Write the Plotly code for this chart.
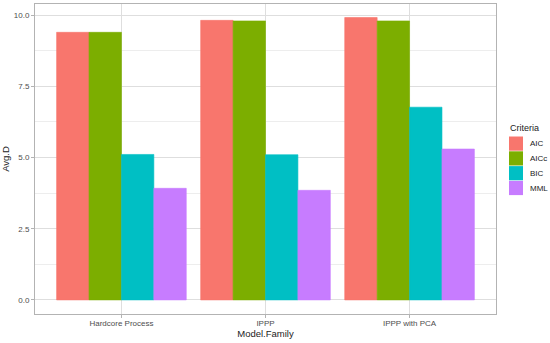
import plotly.graph_objects as go

families = ["Hardcore Process", "IPPP", "IPPP with PCA"]
criteria = ["AIC", "AICc", "BIC", "MML"]
aic = [9.40, 9.82, 9.92]
aicc = [9.40, 9.80, 9.80]
bic = [5.11, 5.10, 6.77]
mml = [3.92, 3.85, 5.30]
colors = ["#F8766D", "#7CAE00", "#00BFC4", "#C77CFF"]
y_ticks = [0.0, 2.5, 5.0, 7.5, 10.0]
y_tick_labels = ["0.0", "2.5", "5.0", "7.5", "10.0"]

W, H = 550, 343
ML, MR, MT, MB = 35, 54, 4, 29
PW, PH = W - ML - MR, H - MT - MB


def px_x(px):
    return (px - ML) / PW


def px_y(py):
    return (H - MB - py) / PH


fig = go.Figure()
for name, vals, col in zip(criteria, [aic, aicc, bic, mml], colors):
    fig.add_trace(go.Bar(x=families, y=vals, name=name, marker_color=col,
                         marker_line_width=0.6, marker_line_color=col,
                         showlegend=False))

# ggplot-style legend on the right
shapes = []
annotations = [dict(text="Criteria", xref="paper", yref="paper",
                    x=px_x(508), y=px_y(128), xanchor="left", yanchor="middle",
                    showarrow=False, font=dict(size=9, color="#222222"))]
key_top, key_h, pitch = 136.5, 14.2, 14.8
for i, (name, col) in enumerate(zip(criteria, colors)):
    t = key_top + i * pitch
    shapes.append(dict(type="rect", xref="paper", yref="paper",
                       x0=px_x(509), x1=px_x(523), y0=px_y(t + key_h), y1=px_y(t),
                       fillcolor=col, line=dict(width=0), layer="above"))
    annotations.append(dict(text=name, xref="paper", yref="paper",
                            x=px_x(528), y=px_y(t + key_h / 2),
                            xanchor="left", yanchor="middle", showarrow=False,
                            font=dict(size=8, color="#222222")))

fig.update_layout(
    width=W, height=H,
    margin=dict(l=ML, r=MR, t=MT, b=MB, autoexpand=False),
    barmode="group", bargap=0.1, bargroupgap=0,
    plot_bgcolor="white", paper_bgcolor="white",
    font=dict(family="Liberation Sans, Arial, sans-serif", color="#333333"),
    showlegend=False,
    shapes=shapes, annotations=annotations,
    xaxis=dict(title=dict(text="Model.Family", font=dict(size=9.5, color="#222222"), standoff=0),
               tickfont=dict(size=8, color="#4d4d4d"), automargin=False,
               showline=True, mirror=True, linecolor="#B3B3B3", linewidth=1,
               showgrid=True, gridcolor="#DEDEDE", gridwidth=1,
               ticks="outside", ticklen=3, tickcolor="#B3B3B3",
               ticklabelstandoff=-2,
               range=[-0.6, 2.6]),
    yaxis=dict(title=dict(text="Avg.D", font=dict(size=9.5, color="#222222"), standoff=4),
               tickfont=dict(size=8, color="#4d4d4d"), automargin=False,
               tickvals=y_ticks, ticktext=y_tick_labels,
               showline=True, mirror=True, linecolor="#B3B3B3", linewidth=1,
               showgrid=True, gridcolor="#DEDEDE", gridwidth=1,
               minor=dict(tickvals=[1.25, 3.75, 6.25, 8.75], showgrid=True,
                          gridcolor="#EDEDED", gridwidth=0.5),
               ticks="outside", ticklen=3, tickcolor="#B3B3B3",
               zeroline=False, range=[-0.495, 10.395]),
)

fig.write_html("out.html", config={"displayModeBar": False},
               post_script="document.body.style.margin='0';")
